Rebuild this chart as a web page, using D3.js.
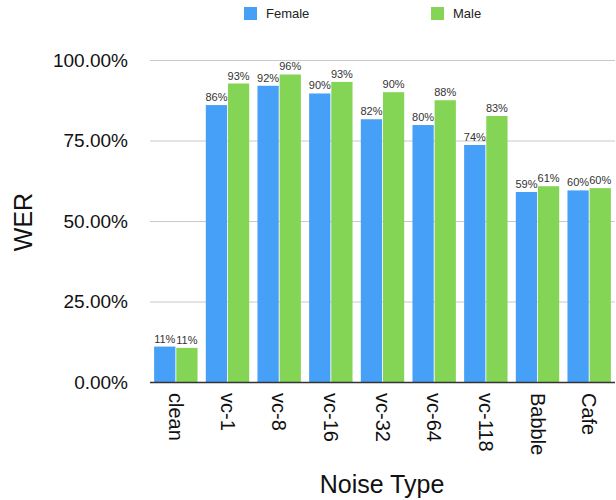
<!DOCTYPE html>
<html>
<head>
<meta charset="utf-8">
<script src="https://cdn.jsdelivr.net/npm/d3@7"></script>
<style>
  html, body { margin: 0; padding: 0; background: #fff; }
  svg { display: block; font-family: "Liberation Sans", Arial, Helvetica, sans-serif; }
</style>
</head>
<body>
<svg id="chart" width="616" height="500"></svg>
<script>
// Word error rate by noise type, split by speaker gender
const categories = ["clean", "vc-1", "vc-8", "vc-16", "vc-32", "vc-64", "vc-118", "Babble", "Cafe"];
const seriesNames = ["Female", "Male"];
const femaleWER = [0.110, 0.860, 0.920, 0.896, 0.816, 0.798, 0.736, 0.590, 0.595];
const maleWER   = [0.106, 0.927, 0.955, 0.932, 0.900, 0.875, 0.826, 0.608, 0.602];
const yTicks = [0, 0.25, 0.5, 0.75, 1.0];

const colors = { Female: "#46a0f7", Male: "#84d455" };

const svg = d3.select("#chart");
const plot = { left: 150, right: 615, top: 60, bottom: 382 };

const x = d3.scaleBand()
  .domain(categories)
  .range([plot.left, plot.right])
  .paddingInner(0.16)
  .paddingOuter(0.08);

const xInner = d3.scaleBand()
  .domain(seriesNames)
  .range([0, x.bandwidth()])
  .paddingInner(0.04);

const y = d3.scaleLinear().domain([0, 1]).range([plot.bottom, plot.top]);

// Horizontal gridlines
svg.append("g")
  .selectAll("line")
  .data(yTicks.filter(d => d > 0))
  .join("line")
  .attr("x1", plot.left)
  .attr("x2", plot.right)
  .attr("y1", d => y(d) + 0.5)
  .attr("y2", d => y(d) + 0.5)
  .attr("stroke", "#c9c9c9")
  .attr("stroke-width", 1);

// Y axis tick labels
const yAxis = d3.axisLeft(y)
  .tickValues(yTicks)
  .tickFormat(d => d3.format(".2%")(d))
  .tickSize(0)
  .tickPadding(22);
svg.append("g")
  .attr("transform", `translate(${plot.left},0)`)
  .call(yAxis)
  .call(g => g.select(".domain").remove())
  .call(g => g.selectAll("text")
    .attr("font-size", 19)
    .attr("font-family", "Liberation Sans, Arial, sans-serif")
    .attr("fill", "#111"));

// Grouped bars
const rows = categories.map((c, i) => ({ category: c, Female: femaleWER[i], Male: maleWER[i] }));
const groups = svg.append("g")
  .selectAll("g")
  .data(rows)
  .join("g")
  .attr("transform", d => `translate(${x(d.category)},0)`);

const bars = groups.selectAll("g")
  .data(d => seriesNames.map(s => ({ series: s, value: d[s] })))
  .join("g");

bars.append("rect")
  .attr("x", d => xInner(d.series))
  .attr("width", xInner.bandwidth())
  .attr("y", d => y(d.value))
  .attr("height", d => y(0) - y(d.value))
  .attr("fill", d => colors[d.series]);

bars.append("text")
  .attr("x", d => xInner(d.series) + xInner.bandwidth() / 2)
  .attr("y", d => y(d.value) - 4)
  .attr("text-anchor", "middle")
  .attr("font-size", 11)
  .attr("fill", "#333")
  .text(d => d3.format(".0%")(d.value));

// Baseline
svg.append("line")
  .attr("x1", plot.left)
  .attr("x2", plot.right)
  .attr("y1", y(0) + 0.5)
  .attr("y2", y(0) + 0.5)
  .attr("stroke", "#333")
  .attr("stroke-width", 1.5);

// Rotated category labels
const xAxis = d3.axisBottom(x).tickSize(0).tickPadding(0);
svg.append("g")
  .attr("transform", `translate(0,${plot.bottom})`)
  .call(xAxis)
  .call(g => g.select(".domain").remove())
  .call(g => g.selectAll("text")
    .attr("font-size", 20)
    .attr("font-family", "Liberation Sans, Arial, sans-serif")
    .attr("fill", "#111")
    .attr("text-anchor", "start")
    .attr("transform", "translate(0,11) rotate(90)")
    .attr("x", 0)
    .attr("y", 0)
    .attr("dy", "0.35em"));

// Axis titles
svg.append("text")
  .attr("x", 382)
  .attr("y", 493)
  .attr("text-anchor", "middle")
  .attr("font-size", 25)
  .attr("fill", "#111")
  .text("Noise Type");

svg.append("text")
  .attr("transform", "translate(32,222) rotate(-90)")
  .attr("text-anchor", "middle")
  .attr("font-size", 25)
  .attr("fill", "#111")
  .text("WER");

// Legend
const legend = svg.append("g");
const legendX = { Female: 244, Male: 431 };
seriesNames.forEach(s => {
  legend.append("rect")
    .attr("x", legendX[s])
    .attr("y", 7)
    .attr("width", 13)
    .attr("height", 13)
    .attr("fill", colors[s]);
  legend.append("text")
    .attr("x", legendX[s] + 22)
    .attr("y", 18)
    .attr("font-size", 13)
    .attr("fill", "#222")
    .text(s);
});
</script>
</body>
</html>
